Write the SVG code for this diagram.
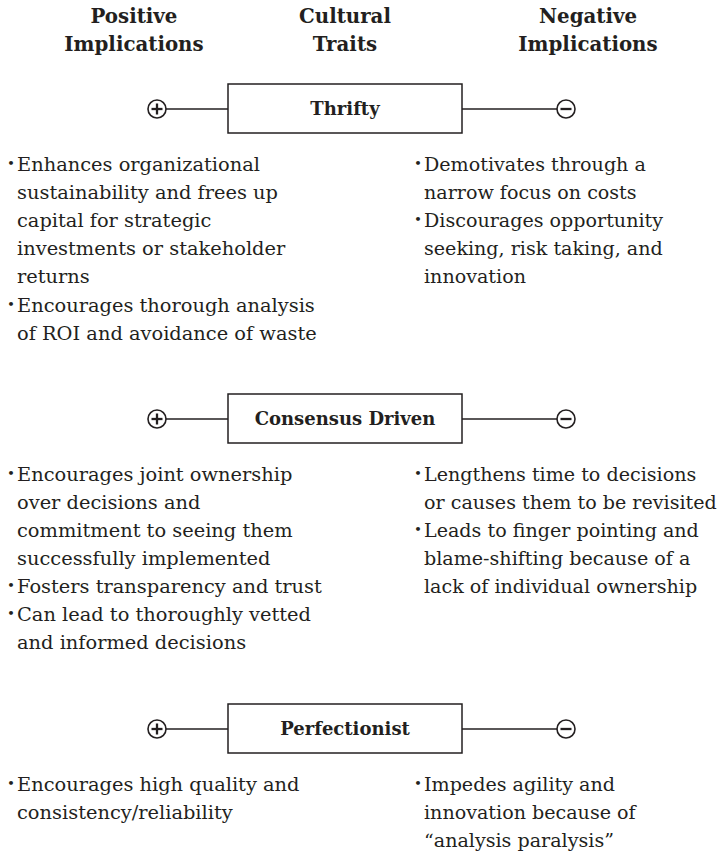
<svg xmlns="http://www.w3.org/2000/svg" width="722" height="858" viewBox="0 0 722 858">
<style>
.hd{font-family:"DejaVu Serif","Liberation Serif",serif;font-weight:bold;font-size:19.8px;fill:#231f20;text-anchor:middle}
.bx{fill:#fff;stroke:#231f20;stroke-width:1.5}
.bt{font-family:"DejaVu Serif","Liberation Serif",serif;font-weight:bold;font-size:18px;fill:#231f20;text-anchor:middle}
.tx{font-family:"DejaVu Serif","Liberation Serif",serif;font-size:19.4px;fill:#231f20}
.tr{font-family:"DejaVu Serif","Liberation Serif",serif;font-size:19.1px;fill:#231f20}
.bl{font-family:"DejaVu Serif","Liberation Serif",serif;font-size:13.5px;fill:#231f20}
.cn{stroke:#231f20;stroke-width:1.5;fill:none}
.sym{fill:#fff;stroke:#231f20;stroke-width:1.6}
.sg{stroke:#231f20;stroke-width:2.3;stroke-linecap:butt}
</style>
<defs>
<g id="plus"><circle class="sym" cx="0" cy="0" r="9"/><line class="sg" x1="-5.5" y1="0" x2="5.5" y2="0"/><line class="sg" x1="0" y1="-5.5" x2="0" y2="5.5"/></g>
<g id="minus"><circle class="sym" cx="0" cy="0" r="9"/><line class="sg" x1="-5.5" y1="0" x2="5.5" y2="0"/></g>
</defs>
<g id="headers">
<text class="hd" x="134" y="23">Positive</text>
<text class="hd" x="134" y="51">Implications</text>
<text class="hd" x="345" y="23">Cultural</text>
<text class="hd" x="345" y="51">Traits</text>
<text class="hd" x="588" y="23">Negative</text>
<text class="hd" x="588" y="51">Implications</text>
</g>
<g id="connectors">
<line class="cn" x1="166" y1="109" x2="228" y2="109"/>
<line class="cn" x1="462" y1="109" x2="557" y2="109"/>
<line class="cn" x1="166" y1="419" x2="228" y2="419"/>
<line class="cn" x1="462" y1="419" x2="557" y2="419"/>
<line class="cn" x1="166" y1="729" x2="228" y2="729"/>
<line class="cn" x1="462" y1="729" x2="557" y2="729"/>
</g>
<g id="thrifty">
<rect class="bx" x="228" y="84" width="234" height="49"/>
<text class="bt" x="345" y="115">Thrifty</text>
</g>
<g id="thrifty-plus"><use href="#plus" x="157" y="109"/></g>
<g id="thrifty-minus"><use href="#minus" x="566" y="109"/></g>
<g id="thrifty-positive" class="tx">
<text class="bl" x="7" y="168">•</text>
<text x="17" y="171">Enhances organizational</text>
<text x="17" y="199">sustainability and frees up</text>
<text x="17" y="227">capital for strategic</text>
<text x="17" y="255">investments or stakeholder</text>
<text x="17" y="283">returns</text>
<text class="bl" x="7" y="309">•</text>
<text x="17" y="312">Encourages thorough analysis</text>
<text x="17" y="340">of ROI and avoidance of waste</text>
</g>
<g id="thrifty-negative" class="tr">
<text class="bl" x="414" y="168">•</text>
<text x="424" y="171">Demotivates through a</text>
<text x="424" y="199">narrow focus on costs</text>
<text class="bl" x="414" y="224">•</text>
<text x="424" y="227">Discourages opportunity</text>
<text x="424" y="255">seeking, risk taking, and</text>
<text x="424" y="283">innovation</text>
</g>
<g id="consensus">
<rect class="bx" x="228" y="394" width="234" height="49"/>
<text class="bt" x="345" y="425">Consensus Driven</text>
</g>
<g id="consensus-plus"><use href="#plus" x="157" y="419"/></g>
<g id="consensus-minus"><use href="#minus" x="566" y="419"/></g>
<g id="consensus-positive" class="tx">
<text class="bl" x="7" y="478">•</text>
<text x="17" y="481">Encourages joint ownership</text>
<text x="17" y="509">over decisions and</text>
<text x="17" y="537">commitment to seeing them</text>
<text x="17" y="565">successfully implemented</text>
<text class="bl" x="7" y="590">•</text>
<text x="17" y="593">Fosters transparency and trust</text>
<text class="bl" x="7" y="618">•</text>
<text x="17" y="621">Can lead to thoroughly vetted</text>
<text x="17" y="649">and informed decisions</text>
</g>
<g id="consensus-negative" class="tr">
<text class="bl" x="414" y="478">•</text>
<text x="424" y="481">Lengthens time to decisions</text>
<text x="424" y="509">or causes them to be revisited</text>
<text class="bl" x="414" y="534">•</text>
<text x="424" y="537">Leads to finger pointing and</text>
<text x="424" y="565">blame-shifting because of a</text>
<text x="424" y="593">lack of individual ownership</text>
</g>
<g id="perfectionist">
<rect class="bx" x="228" y="704" width="234" height="49"/>
<text class="bt" x="345" y="735">Perfectionist</text>
</g>
<g id="perfectionist-plus"><use href="#plus" x="157" y="729"/></g>
<g id="perfectionist-minus"><use href="#minus" x="566" y="729"/></g>
<g id="perfectionist-positive" class="tx">
<text class="bl" x="7" y="788">•</text>
<text x="17" y="791">Encourages high quality and</text>
<text x="17" y="819">consistency/reliability</text>
</g>
<g id="perfectionist-negative" class="tr">
<text class="bl" x="414" y="788">•</text>
<text x="424" y="791">Impedes agility and</text>
<text x="424" y="819">innovation because of</text>
<text x="424" y="847">“analysis paralysis”</text>
</g>
</svg>
